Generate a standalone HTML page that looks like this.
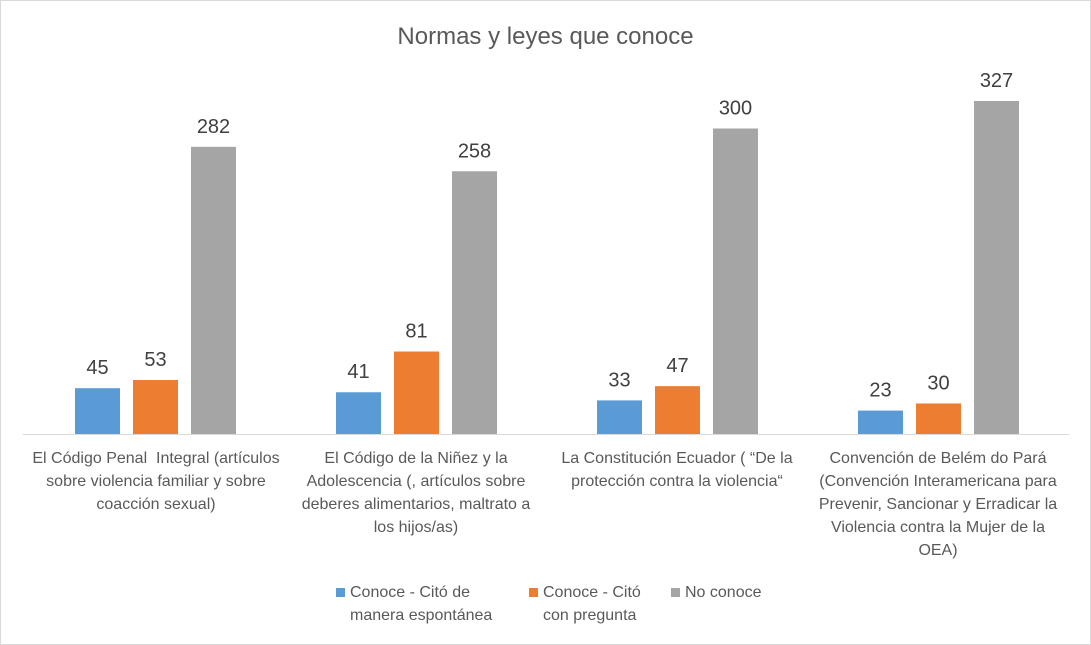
<!DOCTYPE html>
<html><head><meta charset="utf-8"><style>
body{margin:0;background:#fff;}
#c{position:relative;width:1089px;height:643px;border:1px solid #d9d9d9;font-family:"Liberation Sans",sans-serif;color:#595959;overflow:hidden;}
.cat{position:absolute;top:446px;width:290px;text-align:center;font-size:16px;line-height:23px;white-space:nowrap;}
.leg{position:absolute;top:580px;font-size:16px;line-height:23px;}
.sq{position:absolute;width:9px;height:9px;top:587px;}
</style></head><body>
<div id="c">
<div style="position:absolute;top:22px;width:100%;text-align:center;font-size:24px;">Normas y leyes que conoce</div>
<svg id="s" width="1089" height="643" style="position:absolute;left:0;top:0"></svg>
<div class="cat" style="left:10px">El Código Penal &nbsp;Integral (artículos<br>sobre violencia familiar y sobre<br>coacción sexual)</div>
<div class="cat" style="left:270px">El Código de la Niñez y la<br>Adolescencia (, artículos sobre<br>deberes alimentarios, maltrato a<br>los hijos/as)</div>
<div class="cat" style="left:531px">La Constitución Ecuador ( “De la<br>protección contra la violencia“</div>
<div class="cat" style="left:792px">Convención de Belém do Pará<br>(Convención Interamericana para<br>Prevenir, Sancionar y Erradicar la<br>Violencia contra la Mujer de la<br>OEA)</div>
<div class="sq" style="left:335px;background:#5b9bd5"></div>
<div class="leg" style="left:349px">Conoce - Citó de<br>manera espontánea</div>
<div class="sq" style="left:528px;background:#ed7d31"></div>
<div class="leg" style="left:542px">Conoce - Citó<br>con pregunta</div>
<div class="sq" style="left:670px;background:#a5a5a5"></div>
<div class="leg" style="left:684px">No conoce</div>
</div>
<script>
const categories=["El Código Penal Integral","El Código de la Niñez y la Adolescencia","La Constitución Ecuador","Convención de Belém do Pará"];
const spontaneous=[45,41,33,23];
const prompted=[53,81,47,30];
const noConoce=[282,258,300,327];
const series=[spontaneous,prompted,noConoce];
const seriesNames=["spontaneous","prompted","no-conoce"];
const colors=["#5b9bd5","#ed7d31","#a5a5a5"];
const ns="http://www.w3.org/2000/svg";
const svg=document.getElementById('s');
const base=433,k=333/327,x0=24,gw=261,bw=45,step=58;
function y(v){return base-v*k;}
function gx(i){return x0+gw*i+gw/2;}
series.forEach((arr,si)=>{arr.forEach((v,i)=>{
 const bx=gx(i)+(si-1)*step-bw/2;
 const r=document.createElementNS(ns,'rect');
 r.setAttribute('x',bx);r.setAttribute('y',y(v));r.setAttribute('width',bw);r.setAttribute('height',base-y(v));r.setAttribute('fill',colors[si]);
 
 
 svg.appendChild(r);
 const t=document.createElementNS(ns,'text');
 t.setAttribute('x',bx+bw/2);t.setAttribute('y',y(v)-14);t.setAttribute('text-anchor','middle');t.setAttribute('font-size','20');t.setAttribute('fill','#404040');t.setAttribute('font-family','Liberation Sans, sans-serif');
 t.textContent=v;
 
 
 svg.appendChild(t);
});});
const l=document.createElementNS(ns,'line');
l.setAttribute('x1',x0-2);l.setAttribute('x2',x0+gw*4);l.setAttribute('y1',base+0.5);l.setAttribute('y2',base+0.5);l.setAttribute('stroke','#d9d9d9');


svg.appendChild(l);
</script>
</body></html>
